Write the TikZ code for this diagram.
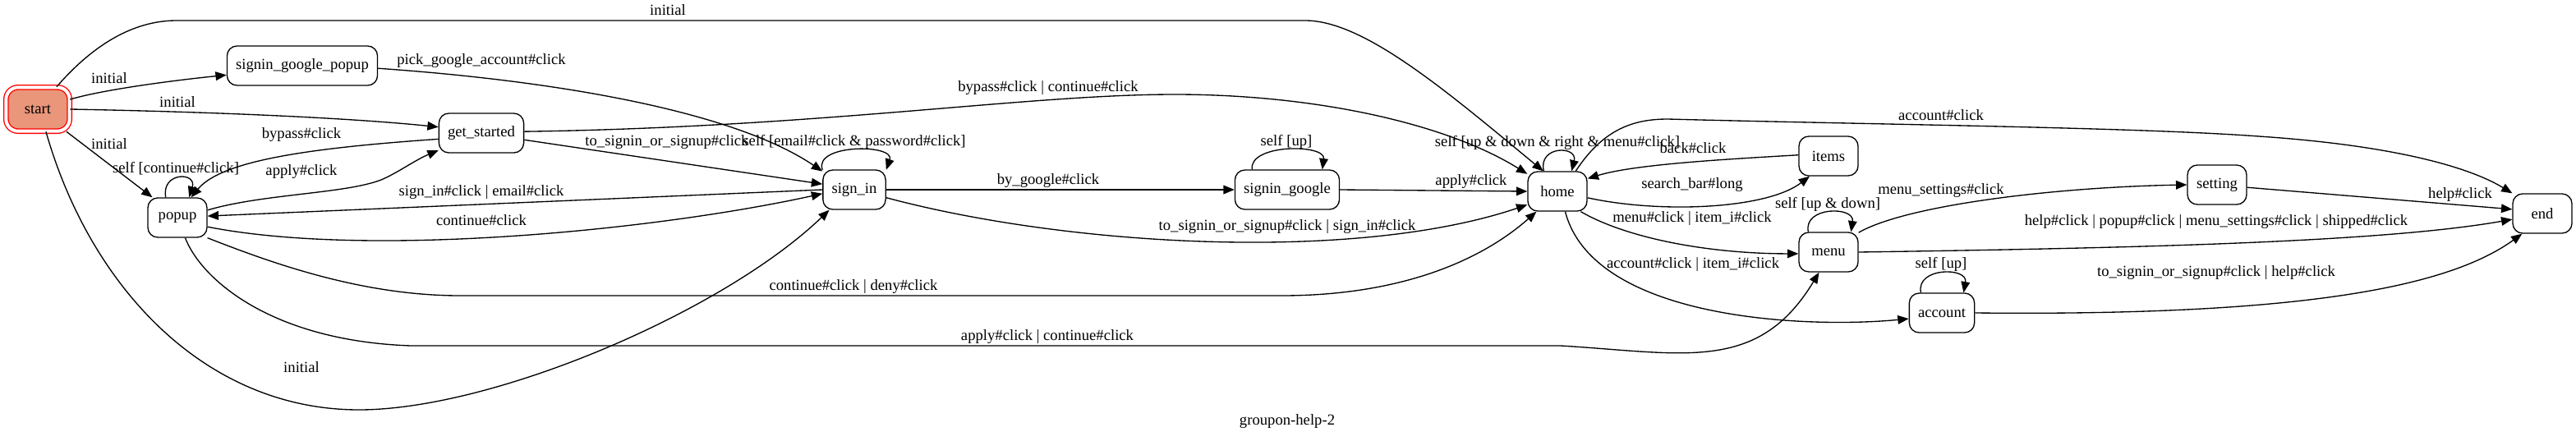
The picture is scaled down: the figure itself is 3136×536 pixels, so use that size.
\documentclass[tikz,border=0pt]{standalone}
\usepackage{fontspec}
\setmainfont{Liberation Serif}
\usepackage{tikz}
\usetikzlibrary{arrows.meta}
\definecolor{startsalmon}{RGB}{233,150,122}
\def\gvfont{\fontsize{14pt}{16pt}\selectfont}
\tikzset{
>={Triangle[length=10pt,width=8pt]},
  state/.style={
    rectangle,
    rounded corners=9pt,
    draw=black, line width=1pt,
    minimum width=54pt,
    minimum height=36pt,
    inner xsep=8pt,
    font=\gvfont},
  initstate/.style={
    state,
    draw=red, fill=startsalmon,
    double=white, double distance=3pt,
    rounded corners=11pt,
    minimum width=58pt,
    minimum height=40pt},
  trans/.style={draw, ->, line width=1pt},
  tlabel/.style={font=\gvfont, inner sep=0pt, text height=10pt, text depth=3pt},
}

\begin{document}
\begin{tikzpicture}[x=0.75pt,y=-0.75pt]
\useasboundingbox (0,0) rectangle (3136,536);
% states
\node[initstate] (start) at (46,133) {start};
\node[state] (sgpopup) at (368,80) {signin\_google\_popup};
\node[state] (getstarted) at (586,162) {get\_started};
\node[state] (popup) at (216,265) {popup};
\node[state] (signin) at (1040,231) {sign\_in};
\node[state] (sgoogle) at (1567,231) {signin\_google};
\node[state] (home) at (1896,233) {home};
\node[state] (items) at (2226,190) {items};
\node[state] (menu) at (2226,307) {menu};
\node[state] (account) at (2364,381) {account};
\node[state] (setting) at (2699,225) {setting};
\node[state] (endst) at (3095,260) {end};

% from start
\draw[trans] (start.50) .. controls (100,70) and (150,25) .. (215,25) -- (1589,25)
   .. controls (1660,25) and (1760,110) .. (home.125) node[tlabel] (l-ini1) at (813,14) {initial};
\draw[trans] (start.17) .. controls (130,108) and (220,97) .. (sgpopup.187) node[tlabel] (l-ini2) at (133,97) {initial};
\draw[trans] (start.east) .. controls (250,136) and (420,143) .. (getstarted.172) node[tlabel] (l-ini3) at (216,126) {initial};
\draw[trans] (start.-38) -- (popup.141) node[tlabel] (l-ini4) at (133,177) {initial};
\draw[trans] (start.-70) .. controls (110,350) and (250,499) .. (437,499)
   .. controls (600,499) and (880,380) .. (signin.219) node[tlabel] (l-ini5) at (367,449) {initial};

% login part
\draw[trans] (sgpopup.-2) .. controls (700,100) and (900,140) .. (signin.150) node[tlabel] (l-pick) at (586,74) {pick\_google\_account\#click};
\draw[trans] (getstarted.2) .. controls (1000,155) and (1250,115) .. (1430,115)
   .. controls (1600,115) and (1760,150) .. (home.150) node[tlabel] (l-bypass2) at (1276,107) {bypass\#click | continue\#click};
\draw[trans] (getstarted.-9) -- (signin.170) node[tlabel] (l-tosign1) at (812,173) {to\_signin\_or\_signup\#click};
\draw[trans] (getstarted.188) .. controls (380,180) and (270,195) .. (popup.56) node[tlabel] (l-bypass1) at (367,164) {bypass\#click};
\draw[trans] (popup.14) .. controls (320,236) and (420,236) .. (464,219)
   .. controls (485,210) and (505,195) .. (getstarted.202) node[tlabel] (l-apply1) at (367,209) {apply\#click};
\draw[trans] (popup.120) .. controls (196,209) and (240,209) .. (popup.60) node[tlabel] (l-selfpop) at (214,206) {self [continue\#click]};
\draw[trans] (signin.west) -- (popup.3) node[tlabel] (l-signin) at (586,234) {sign\_in\#click | email\#click};
\draw[trans] (popup.-17) .. controls (450,315) and (800,280) .. (signin.187) node[tlabel] (l-cont1) at (586,270) {continue\#click};
\draw[trans] (popup.-34) .. controls (330,320) and (440,360) .. (560,360) -- (1560,360)
   .. controls (1700,360) and (1800,320) .. (home.224) node[tlabel] (l-cont2) at (1039,349) {continue\#click | deny\#click};
\draw[trans] (popup.-69) .. controls (245,340) and (330,415) .. (500,421) -- (1900,421)
   .. controls (2050,430) and (2140,455) .. (menu.245) node[tlabel] (l-apply2) at (1275,410) {apply\#click | continue\#click};
\draw[trans] (signin.148) .. controls (990,175) and (1090,175) .. (signin.32) node[tlabel] (l-selfsign) at (1040,173) {self [email\#click \& password\#click]};
\draw[trans] (signin.east) -- (sgoogle.west) node[tlabel] (l-bygoogle) at (1276,220) {by\_google\#click};
\draw[trans] (signin.-14) .. controls (1300,300) and (1650,320) .. (home.204) node[tlabel] (l-tosign2) at (1567,276) {to\_signin\_or\_signup\#click | sign\_in\#click};
\draw[trans] (sgoogle.150) .. controls (1520,175) and (1614,175) .. (sgoogle.30) node[tlabel] (l-selfgoo) at (1566,173) {self [up]};
\draw[trans] (sgoogle.east) -- (home.west) node[tlabel] (l-apply3) at (1791,221) {apply\#click};

% home and after
\draw[trans] (home.124) .. controls (1872,177) and (1921,177) .. (home.55) node[tlabel] (l-selfhome) at (1896,174) {self [up \& down \& right \& menu\#click]};
\draw[trans] (items.178) .. controls (2100,194) and (1990,200) .. (home.23) node[tlabel] (l-back) at (2061,182) {back\#click};
\draw[trans] (home.-12) .. controls (2020,260) and (2150,255) .. (items.227) node[tlabel] (l-search) at (2060,225) {search\_bar\#long};
\draw[trans] (home.-41) .. controls (1980,290) and (2080,309) .. (menu.183) node[tlabel] (l-menu) at (2060,266) {menu\#click | item\_i\#click};
\draw[trans] (home.-69) .. controls (1940,390) and (2200,400) .. (account.190) node[tlabel] (l-acc1) at (2061,322) {account\#click | item\_i\#click};
\draw[trans] (home.48) .. controls (1950,160) and (1985,145) .. (2030,145)
   .. controls (2300,152) and (2600,155) .. (2750,166)
   .. controls (2900,176) and (3000,200) .. (endst.146) node[tlabel] (l-acc2) at (2363,142) {account\#click};
\draw[trans] (menu.135) .. controls (2195,251) and (2258,251) .. (menu.42) node[tlabel] (l-selfmenu) at (2225,249) {self [up \& down]};
\draw[trans] (menu.33) .. controls (2320,250) and (2500,228) .. (setting.west) node[tlabel] (l-menuset) at (2363,232) {menu\_settings\#click};
\draw[trans] (menu.east) .. controls (2600,302) and (2900,295) .. (endst.191) node[tlabel] (l-help1) at (2698,270) {help\#click | popup\#click | menu\_settings\#click | shipped\#click};
\draw[trans] (account.136) .. controls (2332,325) and (2396,325) .. (account.43) node[tlabel] (l-selfacc) at (2363,322) {self [up]};
\draw[trans] (account.east) .. controls (2800,385) and (2980,350) .. (endst.225) node[tlabel] (l-help2) at (2698,332) {to\_signin\_or\_signup\#click | help\#click};
\draw[trans] (setting.-5) -- (endst.172) node[tlabel] (l-help3) at (2995,237) {help\#click};

\node[tlabel] (title) at (1567,513) {groupon-help-2};
\end{tikzpicture}
\end{document}
